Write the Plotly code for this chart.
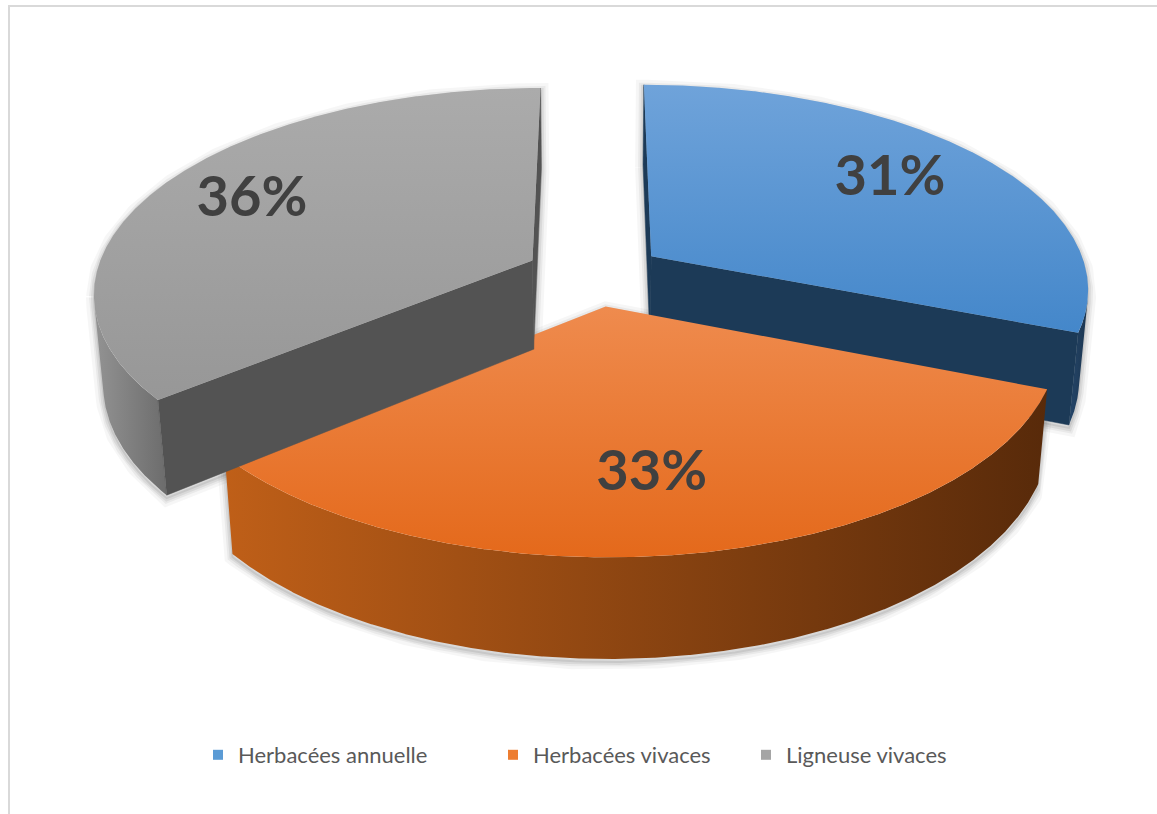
import math
import numpy as np
import plotly.graph_objects as go

# ---- data -------------------------------------------------------------
categories = ["Herbacées annuelle", "Herbacées vivaces", "Ligneuse vivaces"]
values = [31, 33, 36]

legend_colors = ["#5B9BD5", "#ED7D31", "#A5A5A5"]
top_colors = [["#6FA3DA", "#4487CA"], ["#EF8B4E", "#E4691B"], ["#ABABAB", "#979797"]]
rim_colors = [["#25466A", "#1B354F"], ["#BF5F18", "#582A0A"], ["#939393", "#6C6C6C"]]
cut_colors = ["#1C3A57", "#7A3A0E", "#535353"]
legend_x = [218, 513, 766]
label_nudge = [0, -12, -14]

# ---- view / solid parameters -----------------------------------------
W, H = 1157, 814
RADIUS = 0.17        # disc radius (camera distance = 1)
THICK = 0.040        # disc thickness
EXPLODE = 0.027      # slice explosion distance
ELEV = math.radians(27.6)
FOCAL = 2568.0
CX, CY = 594.6, 274.0
SIN, COS = math.sin(ELEV), math.cos(ELEV)
LABEL_RHO = 0.72


def project(X, Y, Z):
    X = np.asarray(X, float)
    Y = np.asarray(Y, float)
    Z = np.asarray(Z, float) + np.zeros_like(X)
    d = Y * COS - Z * SIN + 1.0
    return CX + FOCAL * X / d, CY - FOCAL * (Y * SIN + Z * COS) / d


def hull(xs, ys):
    pts = sorted(set(zip(np.round(xs, 2), np.round(ys, 2))))

    def cross(o, a, b):
        return (a[0] - o[0]) * (b[1] - o[1]) - (a[1] - o[1]) * (b[0] - o[0])

    lower, upper = [], []
    for p in pts:
        while len(lower) >= 2 and cross(lower[-2], lower[-1], p) <= 0:
            lower.pop()
        lower.append(p)
    for p in reversed(pts):
        while len(upper) >= 2 and cross(upper[-2], upper[-1], p) <= 0:
            upper.pop()
        upper.append(p)
    poly = lower[:-1] + upper[:-1]
    poly.append(poly[0])
    return [p[0] for p in poly], [p[1] for p in poly]


def poly_trace(x, y, color=None, gradient=None, line_color=None, line_width=0):
    kw = dict(x=list(x), y=list(y), mode="lines", fill="toself",
              line=dict(width=line_width, color=line_color or "rgba(0,0,0,0)"),
              hoverinfo="skip", showlegend=False)
    if gradient is not None:
        kw["fillgradient"] = gradient
        kw["fillcolor"] = gradient["colorscale"][0][1]
    else:
        kw["fillcolor"] = color
    return go.Scatter(**kw)


total = float(sum(values))
bounds = np.concatenate([[0.0], np.cumsum(values)]) / total * 2 * np.pi

shadow_traces, face_traces = [], []
label_x, label_y, label_text = [], [], []

for i, v in enumerate(values):
    a0, a1 = bounds[i], bounds[i + 1]
    mid = 0.5 * (a0 + a1)
    ox, oy = EXPLODE * math.sin(mid), EXPLODE * math.cos(mid)

    ts = np.linspace(a0, a1, 720)
    rx = ox + RADIUS * np.sin(ts)
    ry = oy + RADIUS * np.cos(ts)

    # top and bottom outlines of the slice
    tx, ty = project(np.r_[ox, rx, ox], np.r_[oy, ry, oy], 0.0)
    bx, by = project(np.r_[ox, rx, ox], np.r_[oy, ry, oy], -THICK)

    # soft shadow around the silhouette
    hx, hy = hull(np.r_[tx, bx], np.r_[ty, by])
    hy = [yy + 3 for yy in hy]
    for lw, a in [(16, 0.035), (10, 0.05), (6, 0.065), (2, 0.08)]:
        shadow_traces.append(poly_trace(hx, hy, color="rgba(0,0,0,0)",
                                        line_color=f"rgba(0,0,0,{a})", line_width=lw))

    # outer curved wall (only the part facing the camera)
    vis = -ox * np.sin(ts) - (COS + oy) * np.cos(ts) - RADIUS > 0
    if vis.any():
        tv = ts[vis]
        wx = ox + RADIUS * np.sin(tv)
        wy = oy + RADIUS * np.cos(tv)
        ux, uy = project(wx, wy, 0.0)
        lx, ly = project(wx[::-1], wy[::-1], -THICK)
        face_traces.append(poly_trace(
            np.r_[ux, lx, ux[:1]], np.r_[uy, ly, uy[:1]],
            gradient=dict(type="horizontal",
                          colorscale=[[0, rim_colors[i][0]], [1, rim_colors[i][1]]])))

    # flat cut walls facing the camera
    cuts = []
    if ox * math.cos(a0) - (COS + oy) * math.sin(a0) > 1e-9:
        cuts.append(a0)
    if -ox * math.cos(a1) + (COS + oy) * math.sin(a1) > 1e-9:
        cuts.append(a1)
    for a in cuts:
        ex = ox + RADIUS * math.sin(a)
        ey = oy + RADIUS * math.cos(a)
        px, py = project([ox, ex, ex, ox, ox], [oy, ey, ey, oy, oy],
                         [0.0, 0.0, -THICK, -THICK, 0.0])
        face_traces.append(poly_trace(px, py, color=cut_colors[i],
                                      line_color=cut_colors[i], line_width=0.5))

    # top face: lighter towards the back (screen top = smaller y value)
    face_traces.append(poly_trace(
        tx, ty,
        gradient=dict(type="vertical",
                      colorscale=[[0, top_colors[i][1]], [1, top_colors[i][0]]])))

    # percentage label on the top face
    lpx, lpy = project([ox + LABEL_RHO * RADIUS * math.sin(mid)],
                       [oy + LABEL_RHO * RADIUS * math.cos(mid)], 0.0)
    label_x.append(float(lpx[0]) + label_nudge[i])
    label_y.append(float(lpy[0]))
    label_text.append(f"{round(v / total * 100)}%")

fig = go.Figure()
for t in shadow_traces + face_traces:
    fig.add_trace(t)

fig.add_trace(go.Scatter(
    x=label_x, y=label_y, mode="text", text=label_text,
    textposition="middle center",
    textfont=dict(family="Lato", size=56, color="#404040", weight="bold"),
    hoverinfo="skip", showlegend=False))

legend_names = ["legend", "legend2", "legend3"]
for i, name in enumerate(categories):
    fig.add_trace(go.Scatter(
        x=[None], y=[None], mode="markers", name=name,
        marker=dict(symbol="square", size=10, color=legend_colors[i]),
        legend=legend_names[i], hoverinfo="skip"))

legend_common = dict(orientation="h", yanchor="middle", xanchor="left",
                     font=dict(family="Lato", size=22, color="#595959"),
                     bgcolor="rgba(0,0,0,0)", itemwidth=30)
layout_legends = {}
for i, lname in enumerate(legend_names):
    layout_legends[lname] = dict(legend_common, x=(legend_x[i] - 20) / W,
                                 y=1 - 755 / H)

fig.update_layout(
    width=W, height=H,
    margin=dict(l=0, r=0, t=0, b=0),
    paper_bgcolor="white", plot_bgcolor="white",
    xaxis=dict(range=[0, W], visible=False, fixedrange=True),
    yaxis=dict(range=[H, 0], visible=False, fixedrange=True),
    shapes=[
        dict(type="line", xref="x", yref="y", x0=8, y0=6, x1=W, y1=6,
             line=dict(color="#D9D9D9", width=2)),
        dict(type="line", xref="x", yref="y", x0=9, y0=6, x1=9, y1=H,
             line=dict(color="#D9D9D9", width=2)),
    ],
    **layout_legends,
)

fig.write_html("out.html")
